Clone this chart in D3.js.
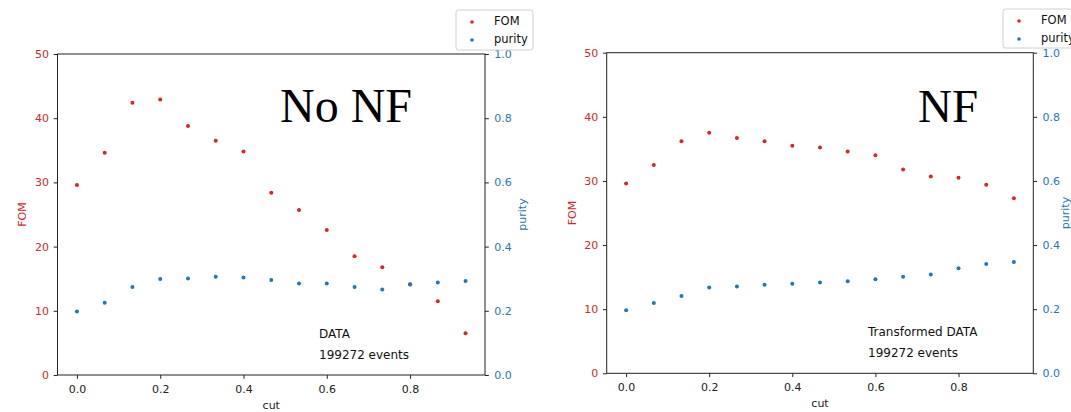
<!DOCTYPE html>
<html>
<head>
<meta charset="utf-8">
<script src="https://cdn.jsdelivr.net/npm/d3@7"></script>
<style>
  body { margin: 0; background: #fff; }
  svg { display: block; font-family: "DejaVu Sans", sans-serif; }
</style>
</head>
<body>
<svg id="chart"></svg>
<script>
// taille de l'image
const width = 1071;
const height = 412;

const red = "#d62728";
const blue = "#1f77b4";

// données
const cuts = [0, 0.0667, 0.1333, 0.2, 0.2667, 0.3333, 0.4, 0.4667, 0.5333, 0.6, 0.6667, 0.7333, 0.8, 0.8667, 0.9333];

const fomNoNF = [29.6, 34.6, 42.4, 42.9, 38.8, 36.5, 34.8, 28.4, 25.7, 22.6, 18.5, 16.8, 14.1, 11.5, 6.5];
const purityNoNF = [0.198, 0.225, 0.274, 0.299, 0.301, 0.306, 0.304, 0.296, 0.285, 0.285, 0.274, 0.266, 0.283, 0.288, 0.293];

const fomNF = [29.6, 32.5, 36.2, 37.5, 36.7, 36.2, 35.5, 35.2, 34.6, 34.0, 31.8, 30.7, 30.5, 29.4, 27.3];
const purityNF = [0.197, 0.219, 0.241, 0.268, 0.271, 0.276, 0.279, 0.283, 0.287, 0.293, 0.301, 0.308, 0.328, 0.341, 0.347];

const cutTicks = [0, 0.2, 0.4, 0.6, 0.8];
const fomTicks = [0, 10, 20, 30, 40, 50];
const purityTicks = [0, 0.2, 0.4, 0.6, 0.8, 1.0];

const seriesNames = ["FOM", "purity"];

const svg = d3.select("#chart")
    .attr("width", width)
    .attr("height", height);

// un panneau = un graphique avec deux axes y
const panels = [
    {
        fom: fomNoNF, purity: purityNoNF,
        title: "No NF", titleX: 280, titleSize: 48,
        note: "DATA", noteX: 319,
        box: { left: 57.5, right: 485, top: 54, bottom: 375 },
        fomLabelX: 22, purityLabelX: 522,
        legend: { x: 456, y: 10, w: 77, h: 40 }
    },
    {
        fom: fomNF, purity: purityNF,
        title: "NF", titleX: 918, titleSize: 47,
        note: "Transformed DATA", noteX: 868,
        box: { left: 606.7, right: 1033.3, top: 52.7, bottom: 373.3 },
        fomLabelX: 572, purityLabelX: 1065,
        legend: { x: 1003, y: 9, w: 77, h: 39 }
    }
];

panels.forEach(drawPanel);

function drawPanel(p) {
    const b = p.box;
    const g = svg.append("g");

    const x = d3.scaleLinear().domain([-0.0467, 0.98]).range([b.left, b.right]);
    const yFom = d3.scaleLinear().domain([0, 50]).range([b.bottom, b.top]);
    const yPur = d3.scaleLinear().domain([0, 1]).range([b.bottom, b.top]);

    // axe x
    const gx = g.append("g")
        .attr("transform", `translate(0,${b.bottom})`)
        .call(d3.axisBottom(x).tickValues(cutTicks).tickFormat(d3.format(".1f")).tickSize(3.8).tickPadding(6).tickSizeOuter(0));
    gx.selectAll("text").attr("fill", "#222");

    // axe gauche (FOM)
    const gl = g.append("g")
        .attr("transform", `translate(${b.left},0)`)
        .call(d3.axisLeft(yFom).tickValues(fomTicks).tickFormat(d3.format("d")).tickSize(3.8).tickPadding(4.7).tickSizeOuter(0));
    gl.selectAll("text").attr("fill", red);

    // axe droit (purity)
    const gr = g.append("g")
        .attr("transform", `translate(${b.right},0)`)
        .call(d3.axisRight(yPur).tickValues(purityTicks).tickFormat(d3.format(".1f")).tickSize(3.8).tickPadding(5.5).tickSizeOuter(0));
    gr.selectAll("text").attr("fill", blue);

    [gx, gl, gr].forEach(a => {
        a.attr("font-size", 11).attr("font-family", "DejaVu Sans");
        a.selectAll("line").attr("stroke", "#222");
        a.select(".domain").remove();
    });

    // cadre
    g.append("rect")
        .attr("x", b.left)
        .attr("y", b.top)
        .attr("width", b.right - b.left)
        .attr("height", b.bottom - b.top)
        .attr("fill", "none")
        .attr("stroke", "#222")
        .attr("stroke-width", 1);

    // titres des axes
    g.append("text")
        .attr("x", (b.left + b.right) / 2)
        .attr("y", b.bottom + 34)
        .attr("text-anchor", "middle")
        .attr("font-size", 11)
        .attr("fill", "#222")
        .text("cut");

    const midY = (b.top + b.bottom) / 2;
    g.append("text")
        .attr("transform", `translate(${p.fomLabelX},${midY}) rotate(-90)`)
        .attr("text-anchor", "middle")
        .attr("dy", "0.35em")
        .attr("font-size", 11)
        .attr("fill", red)
        .text("FOM");
    g.append("text")
        .attr("transform", `translate(${p.purityLabelX},${midY}) rotate(-90)`)
        .attr("text-anchor", "middle")
        .attr("dy", "0.35em")
        .attr("font-size", 11)
        .attr("fill", blue)
        .text("purity");

    // points FOM puis purity (l'axe jumeau est dessiné par-dessus)
    g.append("g").selectAll("circle")
        .data(p.fom)
        .join("circle")
        .attr("cx", (d, i) => x(cuts[i]))
        .attr("cy", d => yFom(d))
        .attr("r", 2)
        .attr("fill", red);

    g.append("g").selectAll("circle")
        .data(p.purity)
        .join("circle")
        .attr("cx", (d, i) => x(cuts[i]))
        .attr("cy", d => yPur(d))
        .attr("r", 2)
        .attr("fill", blue);

    // texte dans le graphique
    g.append("text")
        .attr("x", p.titleX)
        .attr("y", 122)
        .attr("font-family", "Liberation Serif, serif")
        .attr("font-size", p.titleSize)
        .attr("fill", "#000")
        .text(p.title);

    g.append("text")
        .attr("x", p.noteX)
        .attr("y", b.bottom - 37.5)
        .attr("font-size", 12)
        .attr("fill", "#111")
        .text(p.note);
    g.append("text")
        .attr("x", p.noteX)
        .attr("y", b.bottom - 16.5)
        .attr("font-size", 12)
        .attr("fill", "#111")
        .text("199272 events");

    // légende
    const L = p.legend;
    const lg = g.append("g");
    lg.append("rect")
        .attr("x", L.x)
        .attr("y", L.y)
        .attr("width", L.w)
        .attr("height", L.h)
        .attr("rx", 2.5)
        .attr("fill", "white")
        .attr("fill-opacity", 0.85)
        .attr("stroke", "#d0d0d0");
    lg.selectAll(".item")
        .data(seriesNames)
        .join("g")
        .attr("class", "item")
        .attr("transform", (d, i) => `translate(${L.x},${L.y + 10.5 + i * 18})`)
        .each(function (d, i) {
            const it = d3.select(this);
            it.append("circle")
                .attr("cx", 16)
                .attr("cy", 1.5)
                .attr("r", 1.8)
                .attr("fill", i === 0 ? red : blue);
            it.append("text")
                .attr("x", 38)
                .attr("dy", "0.35em")
                .attr("font-size", 11.5)
                .attr("fill", "#111")
                .text(d);
        });
}
</script>
</body>
</html>
